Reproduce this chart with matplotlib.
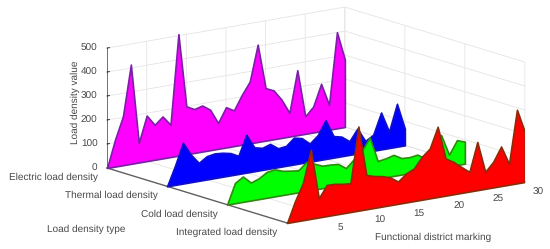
import numpy as np
import matplotlib
matplotlib.use('Agg')
import matplotlib.pyplot as plt
from mpl_toolkits.mplot3d import proj3d
from mpl_toolkits.mplot3d.art3d import Poly3DCollection

plt.rcParams['font.family'] = ['Liberation Sans', 'DejaVu Sans']
plt.rcParams['text.hinting'] = 'none'
plt.rcParams['text.hinting_factor'] = 1

# district numbers, every series starts from 0 at x=0
district = np.arange(0, 31)

electric = [0, 112, 204, 414, 82, 190, 146, 175, 135, 507, 200, 183, 192, 169, 108, 168,
            149, 208, 258, 406, 219, 204, 160, 99, 271, 73, 108, 197, 104, 401, 281]
thermal = [0, 80, 170, 115, 75, 97, 103, 100, 93, 76, 158, 100, 92, 103, 79, 83,
           112, 104, 76, 105, 162, 90, 82, 57, 104, 47, 67, 154, 69, 179, 69]
cold = [0, 85, 106, 75, 87, 108, 113, 101, 96, 92, 121, 108, 94, 93, 90, 67,
        99, 128, 178, 74, 79, 88, 69, 67, 72, 51, 108, 137, 49, 104, 92]
integrated = [0, 85, 155, 288, 80, 130, 129, 123, 120, 351, 143, 133, 127, 116, 93, 121,
              136, 179, 208, 293, 155, 135, 108, 82, 201, 71, 107, 165, 87, 307, 208]

type_labels = ['Electric load density', 'Thermal load density',
               'Cold load density', 'Integrated load density']
series = [electric, thermal, cold, integrated]
fill_colors = ['#ff00ff', '#0000ff', '#00ff00', '#ff0000']
edge_colors = ['#7a1fa8', '#1010c8', '#2f8a10', '#8a2c08']
x_ticks = [5, 10, 15, 20, 25, 30]
z_ticks = [0, 100, 200, 300, 400, 500]

W, H = 550, 249
side = 427.0   # square 3d axes, in pixels
fig = plt.figure(figsize=(W / 100, H / 100), dpi=100)
ax = fig.add_axes([96.7 / W, -85.3 / H, side / W, side / H], projection='3d',
                  proj_type='ortho', computed_zorder=False)
ax.view_init(elev=13.26, azim=-126.9)
ax.set_box_aspect((297.6, 300, 123.3))
ax.patch.set_alpha(0)

ax.set_xlim(0, 30)
ax.set_ylim(0, 3)
ax.set_zlim(0, 500)
ax.set_xticks(x_ticks)
ax.set_yticks([0, 1, 2, 3])
ax.set_zticks(z_ticks)
ax.set_xticklabels([])
ax.set_yticklabels([])
ax.set_zticklabels([])

for axis in (ax.xaxis, ax.yaxis, ax.zaxis):
    axis.set_pane_color((1, 1, 1, 0))
    axis.pane.set_edgecolor((1, 1, 1, 0))
    axis.line.set_color('#707070')
    axis.line.set_linewidth(0.7)
    axis._axinfo['grid']['color'] = '#e4e4e4'
    axis._axinfo['grid']['linewidth'] = 0.6
    axis._axinfo['tick']['color'] = '#707070'
    axis._axinfo['tick']['linewidth'] = {True: 0.6, False: 0.6}
    axis._axinfo['tick']['inward_factor'] = 0.0
    axis._axinfo['tick']['outward_factor'] = 0.12

# mplot3d keeps its y axis on the far side, so hide it and draw the left floor line
ax.yaxis.line.set_color((1, 1, 1, 0))
ax.yaxis._axinfo['tick']['color'] = (1, 1, 1, 0)
ax.plot([0, 0], [3, 0], [0, 0], color='#606060', lw=1.0, zorder=5, clip_on=False)

# electric is at the back, integrated at the front
for i in range(4):
    yv = 3 - i
    verts = list(zip(district, [yv] * 31, series[i])) + [(30, yv, 0), (0, yv, 0)]
    poly = Poly3DCollection([verts], facecolors=fill_colors[i], edgecolors=edge_colors[i],
                            linewidths=1.2, zorder=10 + i)
    ax.add_collection3d(poly)

fig.canvas.draw()
proj = ax.get_proj()


def label(x, y, z, s, **kw):
    # put a 2d text where the 3d point lands
    px, py, _ = proj3d.proj_transform(x, y, z, proj)
    fx, fy = fig.transFigure.inverted().transform(ax.transData.transform((px, py)))
    fig.text(fx, fy, s, va='center', fontsize=fs, color=txt, **kw)


txt = '#484848'
fs = 7.4
for i in range(4):
    label(-1.2, 3 - i, -32, type_labels[i], ha='right')
for v in x_ticks:
    label(v, -0.22, -28, str(v), ha='center')
for v in z_ticks:
    label(-1.2, 3, v + 6, str(v), ha='right')

fig.text(75 / W, 1 - 102 / H, 'Load density value', rotation=90, ha='center', va='center',
         fontsize=fs, color=txt)
fig.text(86 / W, 1 - 229 / H, 'Load density type', ha='center', va='center', fontsize=fs, color=txt)
fig.text(433 / W, 1 - 237 / H, 'Functional district marking', ha='center', va='center',
         fontsize=fs, color=txt)

fig.savefig('out.png', dpi=100)
